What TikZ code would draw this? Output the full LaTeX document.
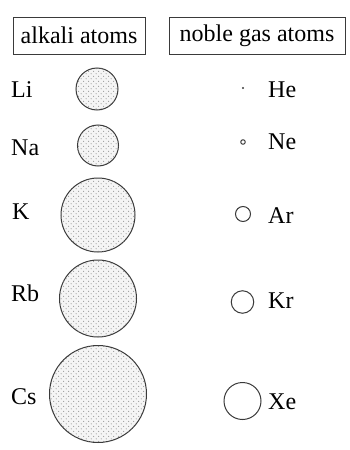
\documentclass[tikz,border=0pt]{standalone}
\usepackage{fontspec}
\setmainfont{Liberation Serif}
\usetikzlibrary{patterns.meta}
\pgfdeclarepattern{
  name=stagdots,
  type=uncolored,
  bottom left={\pgfpoint{-0.1pt}{-0.1pt}},
  top right={\pgfpoint{4.9pt}{4.9pt}},
  tile size={\pgfpoint{5pt}{5pt}},
  code={
    \pgfpathcircle{\pgfpoint{1.2pt}{1.2pt}}{0.5pt}
    \pgfpathcircle{\pgfpoint{3.7pt}{3.7pt}}{0.5pt}
    \pgfusepath{fill}
  }
}
\definecolor{ink}{HTML}{3A3A3A}
\definecolor{dotc}{HTML}{7A7A7A}
\tikzset{
  hdr/.style={draw=ink, line width=1pt, inner sep=0pt, minimum height=37pt, text=black},
  atom/.style={circle, draw=ink, line width=1pt, inner sep=0pt, fill=black!4,
    postaction={pattern={stagdots}, pattern color=dotc}},
  gas/.style={circle, draw=ink, line width=1pt, inner sep=0pt},
  lbl/.style={anchor=base west, inner sep=0pt, text=black}
}
\begin{document}
\begin{tikzpicture}[x=1pt, y=-1pt, font=\fontsize{24}{28}\selectfont]
\useasboundingbox (0,0) rectangle (349,450);
% headers
\node[hdr, minimum width=132pt] (halk) at (79,35.5) {alkali atoms};
\node[hdr, minimum width=176pt] (hnob) at (257,35.5) {noble gas atoms};
% alkali
\node[lbl] (tLi) at (11,97) {Li};
\node[lbl] (tNa) at (11,155) {Na};
\node[lbl] (tK)  at (12,219) {K};
\node[lbl] (tRb) at (11,301) {Rb};
\node[lbl] (tCs) at (11,404) {Cs};
\node[atom, minimum size=42pt] (cLi) at (97,89) {};
\node[atom, minimum size=41pt] (cNa) at (98,145.5) {};
\node[atom, minimum size=74pt] (cK)  at (98,215) {};
\node[atom, minimum size=77pt] (cRb) at (98,298.5) {};
\node[atom, minimum size=97pt] (cCs) at (98,394) {};
% noble gases
\node[circle, fill=ink, inner sep=0pt, minimum size=2.3pt] (cHe) at (243,88) {};
\node[gas, minimum size=4.5pt] (cNe) at (243,142) {};
\node[gas, minimum size=15pt] (cAr) at (243,214) {};
\node[gas, minimum size=22.5pt] (cKr) at (242.5,302) {};
\node[gas, minimum size=37pt] (cXe) at (242.5,401) {};
\node[lbl] (tHe) at (268,97) {He};
\node[lbl] (tNe) at (268,149) {Ne};
\node[lbl] (tAr) at (268,223) {Ar};
\node[lbl] (tKr) at (268,308) {Kr};
\node[lbl] (tXe) at (268,409) {Xe};
\end{tikzpicture}
\end{document}
